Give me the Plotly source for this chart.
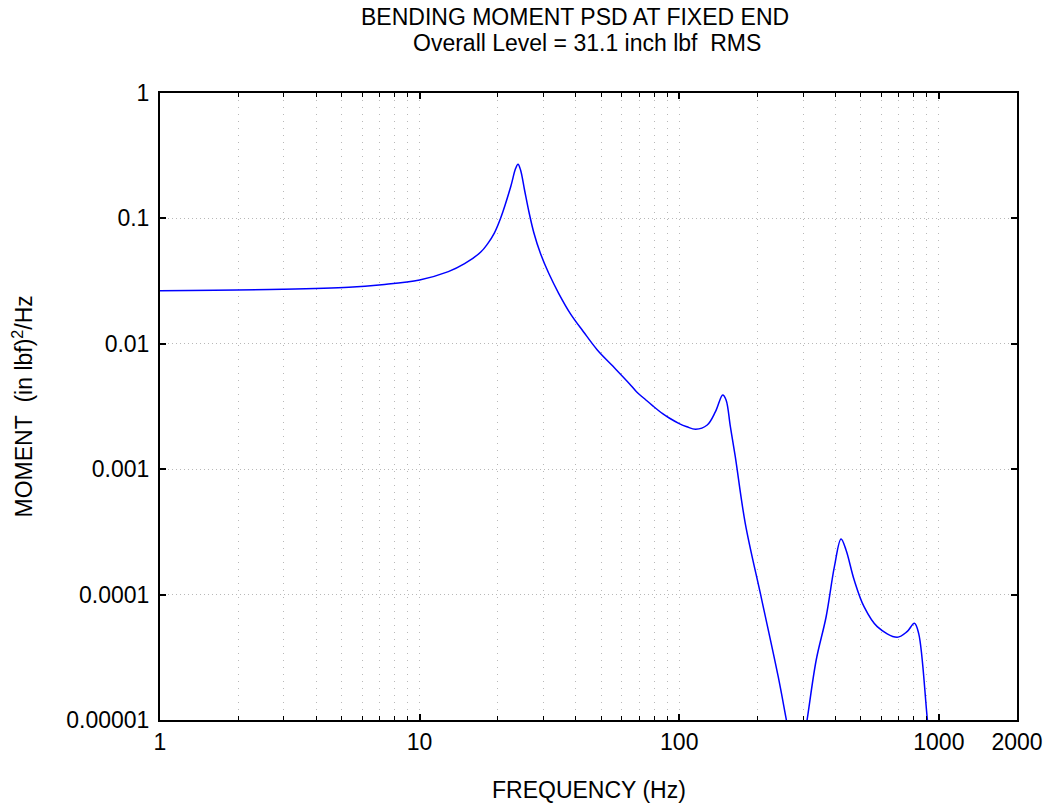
import plotly.graph_objects as go

# Frequency (Hz) and bending moment PSD ((in lbf)^2/Hz)
freq = [1.0, 2.97, 5.34, 7.15, 10.0, 12.9, 14.9, 17.2, 18.27, 19.4, 20.54, 22.43, 23.44,
        23.93, 24.48, 25.36, 26.36, 27.54, 29.19, 31.43, 34.32, 38.01, 42.75, 48.35,
        55.6, 64.4, 68.3, 74.6, 79.1, 86.3, 91.5, 100.0, 107.0, 115.7, 128.2, 137.9,
        147.1, 151.5, 157.4, 164.4, 179.6, 208.0, 240.6, 259.0, 286.0, 310.5, 337.0,
        368.0, 396.0, 420.0, 439.0, 472.0, 515.0, 579.0, 691.0, 754.0, 805.0, 836.0,
        904.0, 953.0]
psd = [0.02651, 0.0272, 0.0282, 0.0296, 0.0323, 0.0376, 0.0435, 0.0539, 0.0627, 0.0764,
       0.1012, 0.179, 0.2508, 0.270, 0.2432, 0.1684, 0.113, 0.0768, 0.0527, 0.0365,
       0.02528, 0.0175, 0.01249, 0.00893, 0.00661, 0.00479, 0.00417, 0.00355, 0.00320,
       0.00277, 0.00256, 0.00231, 0.00218, 0.00208, 0.002252, 0.002874, 0.003905,
       0.003563, 0.002182, 0.001258, 0.0003704, 9.05e-5, 2.214e-5, 9.87e-6, 3.3e-6,
       9.87e-6, 3.01e-5, 6.66e-5, 1.669e-4, 2.775e-4, 2.268e-4, 1.307e-4, 8.01e-5,
       5.55e-5, 4.57e-5, 5.06e-5, 5.90e-5, 4.91e-5, 9.87e-6, 3.4e-6]

x_tickvals = [1, 10, 100, 1000, 2000]
x_ticktext = ["1", "10", "100", "1000", "2000"]
x_minor = [2, 3, 4, 5, 6, 7, 8, 9, 20, 30, 40, 50, 60, 70, 80, 90,
           200, 300, 400, 500, 600, 700, 800, 900]
y_tickvals = [1e-5, 1e-4, 1e-3, 1e-2, 1e-1, 1]
y_ticktext = ["0.00001", "0.0001", "0.001", "0.01", "0.1", "1"]

title1 = "BENDING MOMENT PSD AT FIXED END"
title2 = "Overall Level = 31.1 inch lbf\u00a0\u00a0RMS"
xlabel = "FREQUENCY (Hz)"
ylabel = "MOMENT\u00a0\u00a0(in lbf)<sup>2</sup>/Hz"

FONT = "Liberation Sans, Arial, sans-serif"
fs = 23

fig = go.Figure()
fig.add_trace(go.Scatter(x=freq, y=psd, mode="lines",
                         line=dict(color="#0000ff", width=1.5, shape="spline",
                                   smoothing=1.0),
                         showlegend=False, hoverinfo="skip"))

grid_col = "#b8b8b8"
fig.update_layout(
    width=1055, height=805,
    margin=dict(l=160, r=31, t=93, b=85),
    paper_bgcolor="white", plot_bgcolor="white",
    font=dict(family=FONT, size=fs, color="black"),
    xaxis=dict(type="log", range=[0, 3.30103],
               tickmode="array", tickvals=x_tickvals, ticktext=x_ticktext,
               ticks="inside", ticklen=6, tickwidth=1.5, tickcolor="black",
               showline=True, linecolor="black", linewidth=2, mirror="allticks",
               showgrid=True, gridcolor=grid_col, gridwidth=1, griddash="1px,6px",
               zeroline=False, tickfont=dict(size=fs),
               minor=dict(tickmode="array", tickvals=x_minor, ticks="inside",
                          ticklen=4, tickcolor="black", tickwidth=1,
                          showgrid=True, gridcolor=grid_col, gridwidth=1,
                          griddash="1px,6px")),
    yaxis=dict(type="log", range=[-5, 0],
               tickmode="array", tickvals=y_tickvals, ticktext=y_ticktext,
               ticks="inside", ticklen=6, tickwidth=1.5, tickcolor="black",
               showline=True, linecolor="black", linewidth=2, mirror="allticks",
               showgrid=True, gridcolor=grid_col, gridwidth=1, griddash="1px,3px",
               zeroline=False, tickfont=dict(size=fs), ticklabelstandoff=4),
    annotations=[
        dict(text=title1, x=0.484, y=1.121, xref="paper", yref="paper",
             showarrow=False, xanchor="center", yanchor="middle",
             font=dict(size=fs, family=FONT)),
        dict(text=title2, x=0.4977, y=1.080, xref="paper", yref="paper",
             showarrow=False, xanchor="center", yanchor="middle",
             font=dict(size=fs, family=FONT)),
        dict(text=xlabel, x=0.5, y=-0.112, xref="paper", yref="paper",
             showarrow=False, xanchor="center", yanchor="middle",
             font=dict(size=fs, family=FONT)),
        dict(text=ylabel, x=-0.161, y=0.5, xref="paper", yref="paper",
             showarrow=False, xanchor="center", yanchor="middle", textangle=-90,
             font=dict(size=fs, family=FONT)),
    ],
)

fig.write_html("out.html")
